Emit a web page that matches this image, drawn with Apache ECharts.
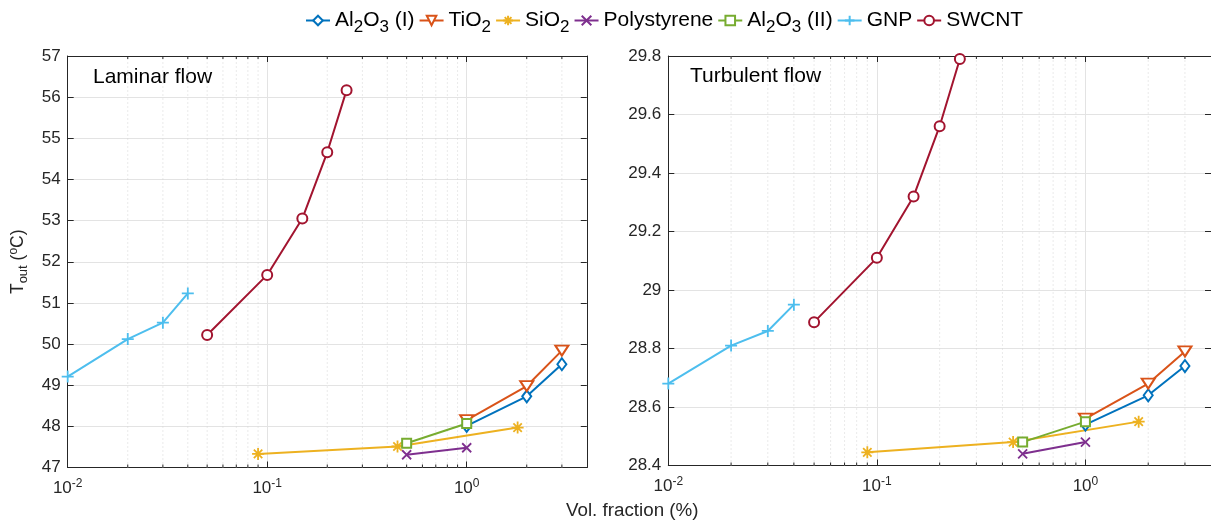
<!DOCTYPE html>
<html>
<head>
<meta charset="utf-8">
<script src="https://cdn.jsdelivr.net/npm/echarts@6/dist/echarts.min.js"></script>
<style>
html,body{margin:0;padding:0;background:#fff;}
#chart{width:1211px;height:520px;}
</style>
</head>
<body>
<div id="chart"></div>
<script>
// ---------- data ----------
const seriesNames = ['Al2O3 (I)', 'TiO2', 'SiO2', 'Polystyrene', 'Al2O3 (II)', 'GNP', 'SWCNT'];

const xAl2O3I = [1, 2, 3];
const lamAl2O3I = [48.01, 48.73, 49.51];
const turbAl2O3I = [28.54, 28.64, 28.74];

const xTiO2 = [1, 2, 3];
const lamTiO2 = [48.15, 48.98, 49.84];
const turbTiO2 = [28.56, 28.68, 28.79];

const xSiO2 = [0.09, 0.45, 1.8];
const lamSiO2 = [47.33, 47.51, 47.97];
const turbSiO2 = [28.445, 28.48, 28.55];

const xPoly = [0.5, 1];
const lamPoly = [47.31, 47.48];
const turbPoly = [28.44, 28.48];

const xAl2O3II = [0.5, 1];
const lamAl2O3II = [47.59, 48.07];
const turbAl2O3II = [28.48, 28.55];

const xGNP = [0.01, 0.02, 0.03, 0.04];
const lamGNP = [49.21, 50.12, 50.52, 51.23];
const turbGNP = [28.68, 28.81, 28.86, 28.95];

const xSWCNT = [0.05, 0.1, 0.15, 0.2, 0.25];
const lamSWCNT = [50.22, 51.68, 53.05, 54.66, 56.17];
const turbSWCNT = [28.89, 29.11, 29.32, 29.56, 29.79];

const minorXTicks = [0.02, 0.03, 0.04, 0.05, 0.06, 0.07, 0.08, 0.09,
                     0.2, 0.3, 0.4, 0.5, 0.6, 0.7, 0.8, 0.9, 2, 3];

const xLimits = [0.01, 4];
const lamYLimits = [47, 57];
const turbYLimits = [28.4, 29.8];

const panelTitles = ['Laminar flow', 'Turbulent flow'];
const xAxisTitle = 'Vol. fraction (%)';

// ---------- styles ----------
const colors = ['#0072BD', '#D95319', '#EDB120', '#7E2F8E', '#77AC30', '#4DBEEE', '#A2142F'];
const plusPath = 'path://M0,-10 L0,10 M-10,0 L10,0';
const crossPath = 'path://M-10,-10 L10,10 M-10,10 L10,-10';
const starPath = 'path://M0,-10 L0,10 M-10,0 L10,0 M-7,-7 L7,7 M-7,7 L7,-7';
const symbols = [
  {symbol: 'emptyDiamond', size: [9, 12], rotate: 0},
  {symbol: 'emptyTriangle', size: [13, 10], rotate: 180},
  {symbol: starPath, size: 12, rotate: 0},
  {symbol: crossPath, size: 9, rotate: 0},
  {symbol: 'emptyRect', size: 9, rotate: 0},
  {symbol: plusPath, size: 12, rotate: 0},
  {symbol: 'emptyCircle', size: 10, rotate: 0}
];
const axisColor = '#262626';
const gridColor = '#e3e3e3';

const lamData = [
  [xAl2O3I, lamAl2O3I], [xTiO2, lamTiO2], [xSiO2, lamSiO2], [xPoly, lamPoly],
  [xAl2O3II, lamAl2O3II], [xGNP, lamGNP], [xSWCNT, lamSWCNT]
];
const turbData = [
  [xAl2O3I, turbAl2O3I], [xTiO2, turbTiO2], [xSiO2, turbSiO2], [xPoly, turbPoly],
  [xAl2O3II, turbAl2O3II], [xGNP, turbGNP], [xSWCNT, turbSWCNT]
];

function zip(xs, ys) { return xs.map((x, i) => [x, ys[i]]); }

const grids = [
  {left: 67.7, top: 56, width: 519.1, height: 411.5},
  {left: 668.3, top: 56, width: 547, height: 409.5}
];
const yLims = [lamYLimits, turbYLimits];
const yIntervals = [1, 0.2];

const xAxes = [], yAxes = [], series = [];
function logLabel(v) {
  const e = Math.log10(v);
  if (Math.abs(e - Math.round(e)) < 1e-6) return '{b|10}{s|' + Math.round(e) + '}';
  return '';
}
grids.forEach((g, gi) => {
  xAxes.push({
    type: 'log', logBase: 10, gridIndex: gi, min: xLimits[0], max: xLimits[1], position: 'bottom',
    axisLine: {show: true, lineStyle: {color: axisColor, width: 1}},
    axisTick: {show: true, inside: true, length: 6, lineStyle: {color: axisColor}},
    axisLabel: {formatter: logLabel, showMaxLabel: false, margin: 10,
      rich: {b: {fontFamily: 'Liberation Sans', fontSize: 17, color: axisColor},
             s: {fontFamily: 'Liberation Sans', fontSize: 12, color: axisColor, padding: [0, 0, 10, 0]}}},
    splitLine: {show: true, lineStyle: {color: gridColor, width: 1}}
  });
  xAxes.push({
    type: 'log', logBase: 10, gridIndex: gi, min: xLimits[0], max: xLimits[1], position: 'top',
    axisLine: {show: true, lineStyle: {color: axisColor, width: 1}},
    axisTick: {show: true, inside: true, length: 6, lineStyle: {color: axisColor}},
    axisLabel: {show: false}, splitLine: {show: false}
  });
  yAxes.push({
    type: 'value', gridIndex: gi, min: yLims[gi][0], max: yLims[gi][1], interval: yIntervals[gi], position: 'left',
    axisLine: {show: true, lineStyle: {color: axisColor, width: 1}},
    axisTick: {show: true, inside: true, length: 6, lineStyle: {color: axisColor}},
    axisLabel: {fontFamily: 'Liberation Sans', fontSize: 17, color: axisColor, margin: 7},
    splitLine: {show: true, lineStyle: {color: gridColor, width: 1}},
    name: gi === 0 ? '{m|T}{s|out}{m| (}{p|o}{m|C)}' : '',
    nameLocation: 'middle', nameGap: 38, nameRotate: 90,
    nameTextStyle: {fontFamily: 'Liberation Sans', fontSize: 17, color: axisColor,
      rich: {m: {fontFamily: 'Liberation Sans', fontSize: 17.5, color: axisColor},
             s: {fontFamily: 'Liberation Sans', fontSize: 13, color: axisColor, padding: [10, 0, 0, 0]},
             p: {fontFamily: 'Liberation Sans', fontSize: 12, color: axisColor, padding: [0, 0, 10, 0]}}}
  });
  yAxes.push({
    type: 'value', gridIndex: gi, min: yLims[gi][0], max: yLims[gi][1], interval: yIntervals[gi], position: 'right',
    axisLine: {show: true, lineStyle: {color: axisColor, width: 1}},
    axisTick: {show: true, inside: true, length: 6, lineStyle: {color: axisColor}},
    axisLabel: {show: false}, splitLine: {show: false}
  });
  series.push({
    type: 'custom', xAxisIndex: gi * 2, yAxisIndex: gi * 2, z: 1, silent: true, clip: false,
    data: minorXTicks.map(v => [v, yLims[gi][0]]),
    renderItem: function (params, api) {
      const cs = params.coordSys;
      const x = api.coord([api.value(0), api.value(1)])[0];
      const top = cs.y, bot = cs.y + cs.height;
      return {type: 'group', children: [
        {type: 'line', shape: {x1: x, y1: bot, x2: x, y2: top},
         style: {stroke: '#d4d4d4', lineWidth: 1, lineDash: [1, 3]}},
        {type: 'line', shape: {x1: x, y1: bot, x2: x, y2: bot - 3}, style: {stroke: axisColor, lineWidth: 1}},
        {type: 'line', shape: {x1: x, y1: top, x2: x, y2: top + 3}, style: {stroke: axisColor, lineWidth: 1}}
      ]};
    }
  });
  const dataSet = gi === 0 ? lamData : turbData;
  dataSet.forEach((d, si) => {
    series.push({
      name: seriesNames[si], type: 'line', xAxisIndex: gi * 2, yAxisIndex: gi * 2, z: 3,
      data: zip(d[0], d[1]),
      symbol: symbols[si].symbol, symbolSize: symbols[si].size, symbolRotate: symbols[si].rotate,
      showAllSymbol: true, clip: false,
      lineStyle: {color: colors[si], width: 2},
      itemStyle: {color: colors[si], borderColor: colors[si], borderWidth: 1.8},
      emphasis: {disabled: true}
    });
  });
});

function legendFmt(name) {
  if (name === 'Al2O3 (I)') return 'Al{s|2}O{s|3} (I)';
  if (name === 'Al2O3 (II)') return 'Al{s|2}O{s|3} (II)';
  if (name === 'TiO2') return 'TiO{s|2}';
  if (name === 'SiO2') return 'SiO{s|2}';
  return name;
}

const option = {
  backgroundColor: '#ffffff',
  animation: false,
  grid: grids,
  xAxis: xAxes,
  yAxis: yAxes,
  legend: {
    data: seriesNames, left: 300, top: 5, itemWidth: 24, itemHeight: 12, itemGap: 4,
    formatter: legendFmt,
    textStyle: {fontFamily: 'Liberation Sans', fontSize: 21, color: '#000',
      rich: {s: {fontFamily: 'Liberation Sans', fontSize: 17, color: '#000', padding: [13, 0, 0, 0]}}}
  },
  graphic: [
    {type: 'text', left: 93, top: 67, style: {text: panelTitles[0], font: '21px "Liberation Sans"', fill: '#000'}},
    {type: 'text', left: 690, top: 66, style: {text: panelTitles[1], font: '21px "Liberation Sans"', fill: '#000'}},
    {type: 'text', left: 566, top: 501, style: {text: xAxisTitle, font: '18.8px "Liberation Sans"', fill: axisColor}}
  ],
  series: series
};

const chart = echarts.init(document.getElementById('chart'), null, {renderer: 'canvas'});
chart.setOption(option);
</script>
</body>
</html>
